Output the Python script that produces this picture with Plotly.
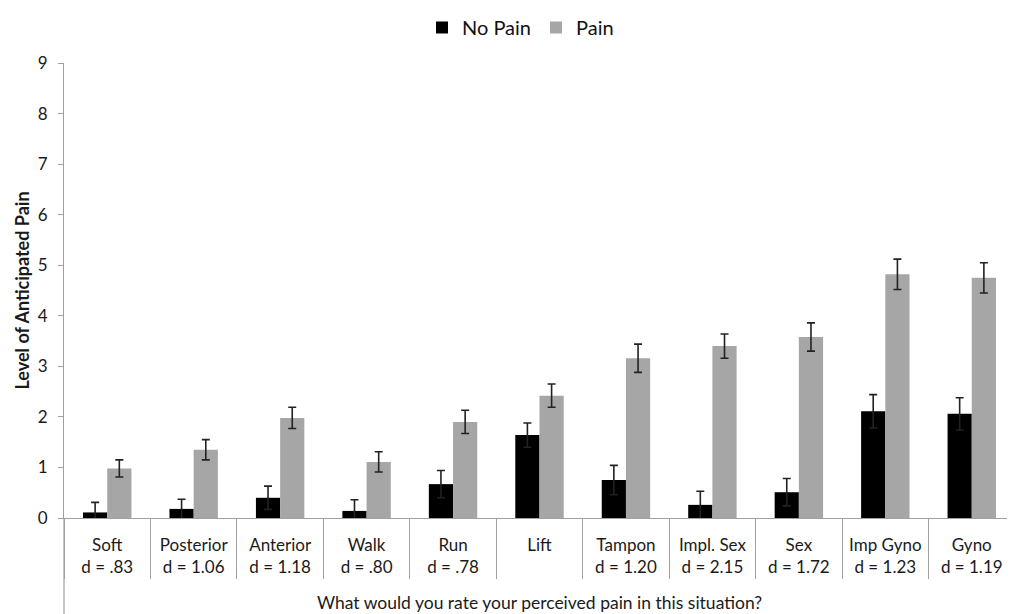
import plotly.graph_objects as go

categories = ["Soft<br>d = .83", "Posterior<br>d = 1.06", "Anterior<br>d = 1.18", "Walk<br>d = .80",
              "Run<br>d = .78", "Lift", "Tampon<br>d = 1.20", "Impl. Sex<br>d = 2.15",
              "Sex<br>d = 1.72", "Imp Gyno<br>d = 1.23", "Gyno<br>d = 1.19"]
no_pain = [0.11, 0.18, 0.40, 0.14, 0.67, 1.64, 0.75, 0.26, 0.51, 2.11, 2.06]
no_pain_err = [0.20, 0.19, 0.23, 0.22, 0.27, 0.24, 0.29, 0.27, 0.27, 0.33, 0.32]
pain = [0.98, 1.35, 1.98, 1.11, 1.90, 2.42, 3.16, 3.40, 3.58, 4.82, 4.75]
pain_err = [0.17, 0.20, 0.21, 0.20, 0.23, 0.23, 0.28, 0.24, 0.28, 0.30, 0.30]

FONT = "Lato, 'Open Sans', sans-serif"
err_style = dict(type="data", visible=True, color="#222222", thickness=1.6, width=4)

fig = go.Figure()
fig.add_trace(go.Bar(name="No Pain", x=categories, y=no_pain, marker_color="#000000",
                     marker_line_width=0,
                     error_y=dict(array=no_pain_err, **err_style)))
fig.add_trace(go.Bar(name="Pain", x=categories, y=pain, marker_color="#a6a6a6",
                     marker_line_width=0,
                     error_y=dict(array=pain_err, **err_style)))

fig.update_layout(
    width=1007, height=606,
    margin=dict(l=56, r=0, t=55, b=96, autoexpand=False),
    paper_bgcolor="white", plot_bgcolor="white",
    barmode="group", bargap=0.44, bargroupgap=0,
    font=dict(family=FONT, size=17, color="#1a1a1a"),
    legend=dict(orientation="h", x=0.48, xanchor="center", y=1.1209, yanchor="top",
                font=dict(size=20, color="#111111"), itemwidth=30, traceorder="normal",
                borderwidth=0),
    xaxis=dict(
        range=[-0.5, 10.5], automargin=False,
        showline=True, linecolor="#a0a0a0", linewidth=1.2,
        ticks="outside", tickson="boundaries", ticklen=60, tickcolor="#a0a0a0", tickwidth=1.2,
        ticklabelstandoff=11,
        tickfont=dict(size=17, color="#1a1a1a"),
        title=dict(text="What would you rate your perceived pain in this situation?",
                   font=dict(size=17.5, color="#1a1a1a"), standoff=21),
        showgrid=False, zeroline=False, fixedrange=True,
    ),
    yaxis=dict(
        range=[0, 9], dtick=1, tick0=0, automargin=False,
        showline=True, linecolor="#a0a0a0", linewidth=1.2,
        ticks="outside", ticklen=5, tickcolor="#a0a0a0",
        ticklabelstandoff=7,
        tickfont=dict(size=17, color="#1a1a1a"),
        title=dict(text="<b>Level of Anticipated Pain</b>", font=dict(size=18, color="#1a1a1a"),
                   standoff=3),
        showgrid=False, zeroline=False,
    ),
    shapes=[dict(type="line", xref="paper", yref="paper", x0=0, x1=0, y0=0, y1=-0.22,
                 line=dict(color="#a0a0a0", width=1.2))],
)

fig.write_html("out.html")
